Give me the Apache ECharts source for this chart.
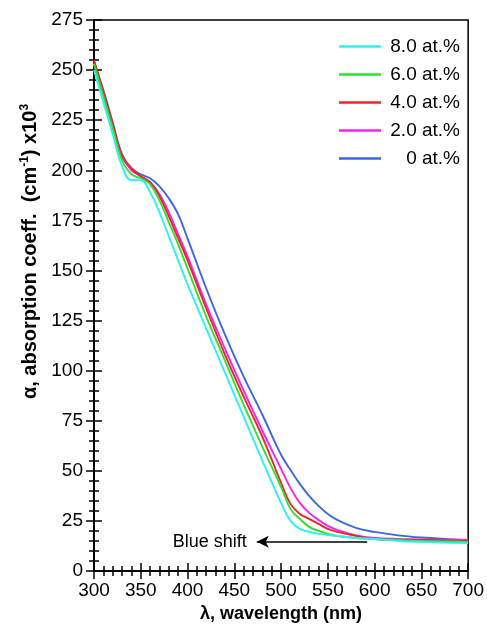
<!DOCTYPE html>
<html>
<head>
<meta charset="utf-8">
<script src="https://cdn.jsdelivr.net/npm/echarts@6/dist/echarts.min.js"></script>
<style>
  html, body { margin: 0; padding: 0; background: #fff; }
  #chart { width: 487px; height: 634px; }
</style>
</head>
<body>
<div id="chart"></div>
<script>
const wavelength = [300, 310, 320, 330, 340, 350, 360, 370, 380, 390, 400, 420, 440, 460, 480, 500, 510, 520, 530, 540, 550, 560, 580, 600, 625, 650, 675, 700]

const at8 = [250, 234, 218, 202, 195, 195, 189, 179, 167, 155, 143, 121, 99, 77, 55, 34, 25, 21, 19.5, 18.5, 18, 17.5, 16.5, 16, 15, 14.5, 14.2, 14]
const at6 = [253, 237, 221, 205, 198, 196, 193, 185, 174, 163, 151, 127, 105, 83, 62, 42, 31, 26, 22, 20, 18.5, 17.5, 16.5, 16, 15.5, 15, 14.8, 14.5]
const at4 = [255, 239, 223, 207, 201, 197, 194, 187, 177, 166, 155, 131, 108, 87, 67, 44, 33.5, 28.5, 26, 23.5, 21, 19.5, 17.5, 16, 15.5, 15.5, 15.2, 15]
const at2 = [253, 238, 222, 207, 200, 197, 194, 188, 179, 168, 157, 133, 111, 90, 70, 51, 41.5, 34, 29, 25.5, 22.5, 20.5, 17.8, 16.5, 16, 15.8, 15.5, 15.5]
const at0 = [254, 240, 224, 208, 201, 198, 196, 192, 186, 178, 166, 141, 118, 97, 78, 58, 50.5, 43.5, 37.5, 32.5, 28.5, 25.5, 21.5, 19.5, 17.8, 16.7, 16, 15.5]

const seriesNames = ['8.0 at.%', '6.0 at.%', '4.0 at.%', '2.0 at.%', '0 at.%']
const seriesColors = ['#2ff0f0', '#2fe02f', '#f02424', '#f424f4', '#3b66e6']

// annotation arrow: [from, to] in (nm, value)
const arrowFrom = [592, 14.6]
const arrowTo = [474, 14.6]

const font = 'Liberation Sans, Arial, sans-serif'

const pairs = (ys) => wavelength.map((x, i) => [x, ys[i]])
const allValues = [at8, at6, at4, at2, at0]

const myChart = echarts.init(document.getElementById('chart'))

const series = []
// draw 0 at.% first so the doped curves sit on top
for (let k = allValues.length - 1; k >= 0; k--) {
    const s = {
        name: seriesNames[k],
        type: 'line',
        smooth: 0.4,
        showSymbol: false,
        data: pairs(allValues[k]),
        lineStyle: { width: 1.9, color: seriesColors[k] },
        itemStyle: { color: seriesColors[k] }
    }
    if (k === 0) {
        s.markLine = {
            silent: true,
            symbol: ['none', 'arrow'],
            symbolSize: [9, 12],
            lineStyle: { color: '#000', width: 1.5, type: 'solid' },
            label: {
                show: true,
                position: 'end',
                formatter: 'Blue shift',
                color: '#000',
                fontSize: 18,
                fontFamily: font,
                distance: 10
            },
            data: [[{ coord: arrowFrom }, { coord: arrowTo }]]
        }
    }
    series.push(s)
}

const xBase = {
    type: 'value',
    min: 300,
    max: 700,
    interval: 50,
    gridIndex: 0,
    position: 'bottom',
    splitLine: { show: false },
    minorSplitLine: { show: false }
}
const yBase = {
    type: 'value',
    min: 0,
    max: 275,
    interval: 25,
    gridIndex: 0,
    position: 'left',
    splitLine: { show: false },
    minorSplitLine: { show: false }
}

myChart.setOption({
    animation: false,
    backgroundColor: '#fff',
    grid: {
        left: 94,
        right: 18,
        top: 20,
        bottom: 63,
        show: true,
        borderColor: '#000',
        borderWidth: 1.5
    },
    legend: {
        data: seriesNames,
        orient: 'vertical',
        right: 22,
        top: 32,
        icon: 'rect',
        itemWidth: 42,
        itemHeight: 2.5,
        itemGap: 9,
        formatter: '{a|{name}}',
        textStyle: {
            rich: {
                a: { width: 74, align: 'right', fontSize: 19, fontFamily: font, color: '#000', lineHeight: 20 }
            }
        }
    },
    xAxis: [
        Object.assign({}, xBase, {
            name: 'λ, wavelength (nm)',
            nameLocation: 'middle',
            nameGap: 34,
            nameTextStyle: { fontSize: 18, fontWeight: 'bold', fontFamily: font, color: '#000' },
            axisLine: { lineStyle: { color: '#000', width: 2 } },
            axisTick: { show: true, inside: false, length: 8, lineStyle: { color: '#000', width: 1.5 } },
            minorTick: { show: true, splitNumber: 5, length: 5, lineStyle: { color: '#000', width: 1.5 } },
            axisLabel: { fontSize: 19, fontFamily: font, color: '#000', margin: 10 }
        }),
        Object.assign({}, xBase, {
            axisLine: { show: false },
            axisTick: { show: true, inside: true, length: 8, lineStyle: { color: '#000', width: 1.5 } },
            minorTick: { show: true, splitNumber: 5, length: 5, lineStyle: { color: '#000', width: 1.5 } },
            axisLabel: { show: false }
        })
    ],
    yAxis: [
        Object.assign({}, yBase, {
            name: '{a|α, absorption coeff.  (cm}{s|-1}{b|) x10}{s|3}',
            nameLocation: 'middle',
            nameGap: 38,
            nameTextStyle: {
                rich: {
                    a: { fontSize: 20, fontWeight: 'bold', fontFamily: font, color: '#000', lineHeight: 24, padding: [0, 0, 0, 88] },
                    b: { fontSize: 20, fontWeight: 'bold', fontFamily: font, color: '#000', lineHeight: 24 },
                    s: { fontSize: 12, fontWeight: 'bold', fontFamily: font, color: '#000', verticalAlign: 'top', lineHeight: 24 }
                }
            },
            axisLine: { lineStyle: { color: '#000', width: 2 } },
            axisTick: { show: true, inside: false, length: 8, lineStyle: { color: '#000', width: 1.5 } },
            minorTick: { show: true, splitNumber: 5, length: 5, lineStyle: { color: '#000', width: 1.5 } },
            axisLabel: { fontSize: 19, fontFamily: font, color: '#000', margin: 11 }
        }),
        Object.assign({}, yBase, {
            axisLine: { show: false },
            axisTick: { show: true, inside: true, length: 8, lineStyle: { color: '#000', width: 1.5 } },
            minorTick: { show: true, splitNumber: 5, length: 5, lineStyle: { color: '#000', width: 1.5 } },
            axisLabel: { show: false }
        })
    ],
    series: series
})
</script>
</body>
</html>
